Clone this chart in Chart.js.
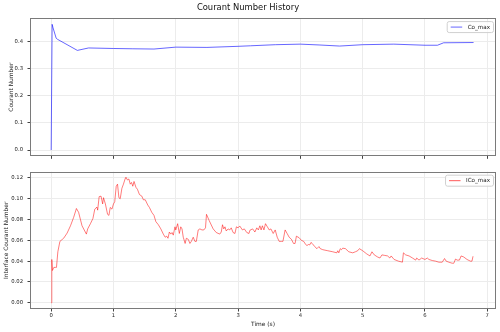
<!DOCTYPE html>
<html>
<head>
<meta charset="utf-8">
<script src="https://cdn.jsdelivr.net/npm/chart.js@4"></script>
<style>
  html, body { margin: 0; padding: 0; background: #fff; }
  #wrap { position: relative; width: 500px; height: 332px; }
  canvas { position: absolute; left: 0; }
</style>
</head>
<body>
<div id="wrap">
  <canvas id="coChart" width="500" height="164" style="top:0"></canvas>
  <canvas id="icoChart" width="500" height="168" style="top:164px"></canvas>
</div>
<script>
// Data
const coTime = [0, 0.015, 0.03, 0.08, 0.1, 0.42, 0.6, 1.0, 1.3, 1.65, 2.0, 2.5, 3.0, 3.2, 3.6, 4.0, 4.3, 4.63, 5.0, 5.5, 6.0, 6.2, 6.3, 6.78];
const coMax = [0, 0.463, 0.45, 0.412, 0.408, 0.367, 0.376, 0.374, 0.373, 0.372, 0.379, 0.378, 0.382, 0.384, 0.388, 0.390, 0.387, 0.383, 0.388, 0.390, 0.386, 0.386, 0.395, 0.396];

const icoTime = [0, 0.01, 0.02, 0.043, 0.07, 0.085, 0.107, 0.14, 0.2, 0.256, 0.31, 0.36, 0.405, 0.44, 0.495, 0.565, 0.586, 0.63, 0.67, 0.70, 0.735, 0.746, 0.77, 0.80, 0.826, 0.84, 0.87, 0.905, 0.927, 0.948, 0.975, 1.0, 1.02, 1.044, 1.065, 1.087, 1.108, 1.135, 1.16, 1.19, 1.2, 1.225, 1.247, 1.27, 1.29, 1.31, 1.33, 1.36, 1.385, 1.417, 1.455, 1.48, 1.51, 1.55, 1.577, 1.614, 1.65, 1.68, 1.72, 1.76, 1.80, 1.83, 1.855, 1.875, 1.897, 1.92, 1.94, 1.96, 1.987, 2.0, 2.03, 2.057, 2.08, 2.1, 2.12, 2.15, 2.17, 2.2, 2.227, 2.25, 2.28, 2.307, 2.33, 2.36, 2.387, 2.42, 2.45, 2.477, 2.493, 2.536, 2.6, 2.65, 2.706, 2.73, 2.75, 2.77, 2.79, 2.81, 2.84, 2.866, 2.89, 2.92, 2.95, 2.973, 3.0, 3.026, 3.07, 3.1, 3.14, 3.175, 3.19, 3.234, 3.27, 3.30, 3.325, 3.35, 3.37, 3.39, 3.415, 3.44, 3.47, 3.5, 3.527, 3.564, 3.596, 3.628, 3.66, 3.70, 3.72, 3.755, 3.787, 3.82, 3.856, 3.89, 3.915, 3.936, 3.98, 4.016, 4.053, 4.085, 4.106, 4.13, 4.15, 4.17, 4.19, 4.23, 4.266, 4.298, 4.32, 4.36, 4.44, 4.52, 4.585, 4.6, 4.617, 4.64, 4.66, 4.68, 4.723, 4.777, 4.84, 4.883, 4.92, 4.947, 5.0, 5.064, 5.117, 5.149, 5.186, 5.24, 5.277, 5.309, 5.346, 5.4, 5.436, 5.457, 5.505, 5.574, 5.638, 5.654, 5.69, 5.745, 5.8, 5.85, 5.867, 5.904, 5.947, 6.0, 6.037, 6.064, 6.117, 6.17, 6.223, 6.277, 6.314, 6.34, 6.383, 6.436, 6.463, 6.49, 6.516, 6.553, 6.58, 6.622, 6.675, 6.729, 6.755, 6.771];
const icoMax = [0, 0.0416, 0.031, 0.034, 0.034, 0.034, 0.049, 0.059, 0.062, 0.067, 0.074, 0.082, 0.0906, 0.087, 0.074, 0.066, 0.071, 0.076, 0.081, 0.09, 0.092, 0.089, 0.102, 0.1025, 0.095, 0.101, 0.095, 0.085, 0.084, 0.0916, 0.090, 0.095, 0.097, 0.112, 0.114, 0.101, 0.100, 0.110, 0.114, 0.1197, 0.1206, 0.118, 0.119, 0.114, 0.1156, 0.112, 0.1166, 0.111, 0.109, 0.104, 0.1025, 0.099, 0.099, 0.094, 0.0916, 0.087, 0.084, 0.078, 0.075, 0.071, 0.066, 0.063, 0.064, 0.062, 0.068, 0.066, 0.0675, 0.065, 0.073, 0.070, 0.076, 0.0666, 0.073, 0.071, 0.063, 0.057, 0.062, 0.061, 0.057, 0.059, 0.063, 0.059, 0.059, 0.070, 0.071, 0.070, 0.070, 0.072, 0.085, 0.079, 0.071, 0.0675, 0.066, 0.068, 0.075, 0.071, 0.073, 0.069, 0.071, 0.070, 0.072, 0.0675, 0.0666, 0.073, 0.072, 0.0738, 0.070, 0.071, 0.0675, 0.0666, 0.0697, 0.071, 0.068, 0.072, 0.070, 0.074, 0.070, 0.074, 0.070, 0.076, 0.073, 0.070, 0.071, 0.0666, 0.070, 0.063, 0.059, 0.059, 0.059, 0.070, 0.0666, 0.063, 0.061, 0.057, 0.057, 0.064, 0.0625, 0.060, 0.059, 0.056, 0.055, 0.056, 0.0556, 0.058, 0.057, 0.054, 0.052, 0.054, 0.052, 0.051, 0.050, 0.049, 0.048, 0.050, 0.048, 0.052, 0.051, 0.0525, 0.052, 0.049, 0.048, 0.049, 0.050, 0.052, 0.050, 0.047, 0.045, 0.049, 0.046, 0.044, 0.043, 0.046, 0.0456, 0.045, 0.043, 0.045, 0.0416, 0.040, 0.039, 0.048, 0.046, 0.045, 0.043, 0.041, 0.043, 0.041, 0.043, 0.0416, 0.043, 0.0416, 0.0406, 0.040, 0.039, 0.039, 0.0425, 0.040, 0.039, 0.038, 0.038, 0.042, 0.041, 0.041, 0.045, 0.044, 0.0416, 0.040, 0.040, 0.0447];

const xTicks = [0, 1, 2, 3, 4, 5, 6, 7];
const coTicks = [0, 0.1, 0.2, 0.3, 0.4];
const icoTicks = [0, 0.02, 0.04, 0.06, 0.08, 0.10, 0.12];

const FONT = 'DejaVu Sans';
Chart.defaults.font.family = FONT;
Chart.defaults.color = '#1a1a1a';

// Full frame around the plot area, like matplotlib spines
const framePlugin = {
    id: 'frame',
    afterDraw(chart) {
        const { ctx, chartArea: a } = chart;
        ctx.save();
        ctx.strokeStyle = '#7a7a7a';
        ctx.lineWidth = 1;
        ctx.strokeRect(Math.round(a.left) + 0.5, Math.round(a.top) + 0.5,
            Math.round(a.right - a.left) - 1, Math.round(a.bottom - a.top) - 1);
        ctx.restore();
    }
};

// Small legend box in the upper right corner of the plot area
const boxLegend = {
    id: 'boxLegend',
    afterDraw(chart) {
        const { ctx, chartArea: a } = chart;
        const ds = chart.data.datasets[0];
        ctx.save();
        ctx.font = '5.6px "' + FONT + '"';
        const tw = ctx.measureText(ds.label).width;
        const w = 4 + 11.5 + 5.5 + tw + 3;
        const h = 11;
        const x = a.right - 3 - w;
        const y = a.top + 3;
        ctx.beginPath();
        ctx.roundRect(x + 0.5, y + 0.5, w, h, 2);
        ctx.fillStyle = 'rgba(255,255,255,0.8)';
        ctx.fill();
        ctx.strokeStyle = '#d0d0d0';
        ctx.lineWidth = 1;
        ctx.stroke();
        ctx.beginPath();
        ctx.moveTo(x + 4, y + h / 2 + 0.5);
        ctx.lineTo(x + 15.5, y + h / 2 + 0.5);
        ctx.strokeStyle = ds.borderColor;
        ctx.lineWidth = 1;
        ctx.stroke();
        ctx.fillStyle = '#1a1a1a';
        ctx.textBaseline = 'middle';
        ctx.fillText(ds.label, x + 21, y + h / 2 + 0.5);
        ctx.restore();
    }
};

function xScale(showLabels, height) {
    return {
        type: 'linear',
        min: -0.34,
        max: 7.14,
        afterBuildTicks: s => { s.ticks = xTicks.map(v => ({ value: v })); },
        afterFit: s => { s.height = height; },
        ticks: { display: showLabels, font: { size: 5.3 }, padding: 1, maxRotation: 0 },
        grid: { color: '#ececec', tickColor: '#444', tickLength: 2.5, lineWidth: 1 },
        border: { display: false },
        title: {
            display: showLabels, text: 'Time (s)',
            font: { size: 5.9 }, padding: { top: 0, bottom: 4.4 }
        }
    };
}

function yScale(min, max, ticks, digits, label, titlePad) {
    return {
        type: 'linear',
        min: min,
        max: max,
        afterBuildTicks: s => { s.ticks = ticks.map(v => ({ value: v })); },
        afterFit: s => { s.width = 30; },
        ticks: { font: { size: 5.3 }, padding: 4.5, callback: v => v.toFixed(digits) },
        grid: { color: '#ececec', tickColor: '#444', tickLength: 2.5, lineWidth: 1 },
        border: { display: false },
        title: {
            display: true, text: label,
            font: { size: 5.9 }, padding: { top: titlePad, bottom: 0 }
        }
    };
}

function points(xs, ys) {
    return xs.map((x, i) => ({ x: x, y: ys[i] }));
}

new Chart(document.getElementById('coChart'), {
    type: 'line',
    data: {
        datasets: [{
            label: 'Co_max',
            data: points(coTime, coMax),
            borderColor: 'rgba(0,0,255,0.6)',
            borderWidth: 1,
            pointRadius: 0,
            tension: 0
        }]
    },
    options: {
        responsive: false,
        animation: false,
        layout: { padding: { left: 0, right: 4, top: 0, bottom: 0 } },
        plugins: {
            legend: { display: false },
            tooltip: { enabled: false },
            title: {
                display: true, text: 'Courant Number History',
                color: '#111', font: { size: 8.4, weight: 'normal' },
                padding: { top: 3, bottom: 5 }
            }
        },
        scales: {
            x: xScale(false, 5),
            y: yScale(-0.023, 0.486, coTicks, 1, 'Courant Number', 7.5)
        }
    },
    plugins: [framePlugin, boxLegend]
});

new Chart(document.getElementById('icoChart'), {
    type: 'line',
    data: {
        datasets: [{
            label: 'ICo_max',
            data: points(icoTime, icoMax),
            borderColor: 'rgba(255,0,0,0.65)',
            borderWidth: 0.8,
            pointRadius: 0,
            tension: 0
        }]
    },
    options: {
        responsive: false,
        animation: false,
        layout: { padding: { left: 0, right: 4, top: 3, bottom: 0 } },
        plugins: {
            legend: { display: false },
            tooltip: { enabled: false }
        },
        scales: {
            x: xScale(true, 23),
            y: yScale(-0.006, 0.126, icoTicks, 2, 'Interface Courant Number', 3.2)
        }
    },
    plugins: [framePlugin, boxLegend]
});
</script>
</body>
</html>
